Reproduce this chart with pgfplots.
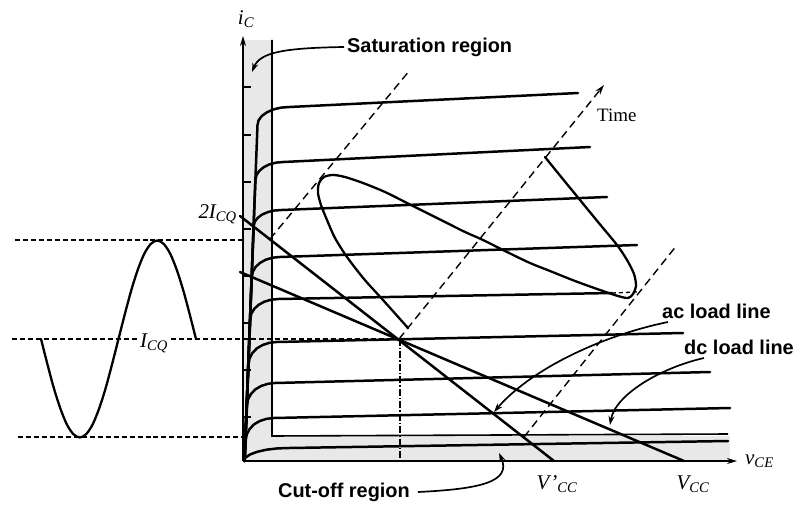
\documentclass[border=0pt]{standalone}
\usepackage{fontspec}
\setmainfont{Liberation Serif}
\newfontfamily\lsans{Liberation Sans}
\usepackage{pgfplots}
\pgfplotsset{compat=1.18}
\usetikzlibrary{arrows.meta}
\newcommand\lab{\lsans\bfseries\fontsize{20}{23}\selectfont}
\newcommand\tlab{\fontsize{19}{22}\selectfont}
\newcommand\mlab{\fontsize{21}{24}\selectfont\itshape}
\tikzset{
  mycurve/.style={black, line width=2.5pt, line join=round, line cap=round},
  dsh/.style={black, line width=1.4pt, dash pattern=on 8pt off 5pt},
  ldsh/.style={black, line width=1.4pt, dash pattern=on 5pt off 3pt}}
\begin{document}
\begin{tikzpicture}
\begin{axis}[hide axis, scale only axis, width=796bp, height=507bp,
  xmin=0, xmax=796, ymin=0, ymax=507, y dir=reverse, clip=false]
\addplot[draw=none] coordinates {(0,0) (796,507)};
% shaded regions
\fill[gray!18] (axis cs:243,40) rectangle (axis cs:272,461);
\fill[gray!18] (axis cs:243,436) rectangle (axis cs:730,461);
% inner boundary of regions
\addplot[black, line width=1.6pt] coordinates {(272,40) (272,436) (728,434)};
% left dashed levels
\addplot[ldsh] coordinates {(15,240) (243,240)};
\addplot[ldsh] coordinates {(12,339) (399,339)};
\addplot[ldsh] coordinates {(18,437) (243,437)};
\addplot[black, line width=1.3pt, dash pattern=on 7pt off 2pt on 1.5pt off 2pt] coordinates {(400,339) (400,461)};
% axes
\draw[black, line width=2.2pt, -{Stealth[length=10pt,width=6pt]}] (axis cs:243,461) -- (axis cs:243,36);
\draw[black, line width=2.2pt, -{Stealth[length=10pt,width=6pt]}] (axis cs:243,461) -- (axis cs:737,461);
\draw[black, line width=1.3pt] (axis cs:243,87) -- (axis cs:251,87);
\draw[black, line width=1.3pt] (axis cs:243,135) -- (axis cs:251,135);
\draw[black, line width=1.3pt] (axis cs:243,182) -- (axis cs:251,182);
\draw[black, line width=1.3pt] (axis cs:243,229) -- (axis cs:251,229);
\draw[black, line width=1.3pt] (axis cs:243,276) -- (axis cs:251,276);
\draw[black, line width=1.3pt] (axis cs:243,323) -- (axis cs:251,323);
\draw[black, line width=1.3pt] (axis cs:243,370) -- (axis cs:251,370);
\draw[black, line width=1.3pt] (axis cs:243,417) -- (axis cs:251,417);
% characteristic curves
\addplot[mycurve] coordinates {(244.5,461) (257.5,125) (258.6,120.3) (261.8,116) (266.9,112.3) (273.5,109.4) (281.2,107.6) (289.5,107) (578,93)};
\addplot[mycurve] coordinates {(244.5,461) (255.4,180) (256.4,175.3) (259.2,171) (263.6,167.3) (269.4,164.4) (276.2,162.6) (283.4,162) (590,147)};
\addplot[mycurve] coordinates {(244.5,461) (253.7,226) (254.7,221.9) (257.5,218) (261.9,214.7) (267.7,212.1) (274.5,210.5) (281.7,210) (607,197)};
\addplot[mycurve] coordinates {(244.5,461) (251.8,277) (252.8,271.8) (255.6,267) (260.0,262.9) (265.8,259.7) (272.6,257.7) (279.8,257) (637,245)};
\addplot[mycurve] coordinates {(244.5,461) (250.3,319) (251.3,313.8) (254.1,309) (258.5,304.9) (264.3,301.7) (271.1,299.7) (278.3,299) (612,293)};
\addplot[mycurve] coordinates {(244.5,461) (248.6,364) (249.6,358.3) (252.4,353) (256.8,348.4) (262.6,345) (269.4,342.8) (276.6,342) (683,333)};
\addplot[mycurve] coordinates {(244.5,461) (247.1,405) (248.1,399.3) (250.9,394) (255.3,389.4) (261.1,386) (267.9,383.8) (275.1,383) (710,372)};
\addplot[mycurve] coordinates {(244.5,461) (245.8,440) (246.8,434.3) (249.6,429) (254.0,424.4) (259.8,421) (266.6,418.8) (273.8,418) (730,408)};
\addplot[mycurve] coordinates {(244,461) (245.5,457.6) (250.0,454.5) (257.2,451.8) (266.5,449.7) (277.4,448.4) (289,448) (728,441)};
\addplot[black, line width=1.3pt, dash pattern=on 4pt off 3pt] coordinates {(612,293) (637,292)};
% load lines
\addplot[mycurve] coordinates {(240,216) (554,461)};
\addplot[mycurve] coordinates {(240,272) (684,461)};
% time axes
\addplot[dsh] coordinates {(270,239) (410,70)};
\addplot[dsh, -{Stealth[length=10pt,width=6pt]}] coordinates {(399,339) (604,85)};
\addplot[dsh] coordinates {(524,437) (677,245)};
% output current waveform
\addplot[mycurve, line width=2.3pt, smooth, tension=0.5] coordinates {
 (408,328) (383,300) (364,279) (347,257) (335,238) (327,220) (321,205) (318,193)
 (319,183) (324,177) (333,175) (345,177) (363,183) (385,192) (407,203) (427,213)
 (447,223) (465,232) (483,240) (507,252) (530,263) (550,271) (575,281) (600,290)
 (618,296) (628,298) (633,294) (636,286) (634,274) (627,260) (617,245) (598,222)
 (580,200) (562,178) (545,157)};
% input sine
\addplot[mycurve, line width=2.3pt, smooth, tension=0.5] coordinates {
 (41,339) (47.5,364.5) (53.9,388.3) (60.4,408.6) (66.8,424.3) (73.3,434.1) (79.8,437.5)
 (86.2,434.1) (92.7,424.3) (99.1,408.6) (105.6,388.3) (112.0,364.5) (118.5,339)
 (125.0,313.5) (131.4,289.8) (137.9,269.4) (144.3,253.7) (150.8,243.9) (157.3,240.5)
 (163.7,243.9) (170.2,253.7) (176.6,269.4) (183.1,289.8) (189.5,313.5) (196,339)};
% annotation arrows
\draw[black, line width=1.7pt, -{Stealth[length=9pt,width=6pt]}] (axis cs:344,47) .. controls (axis cs:285,48) and (axis cs:260,52) .. (axis cs:252,72);
\draw[black, line width=1.7pt, -{Stealth[length=9pt,width=6pt]}] (axis cs:668,322) .. controls (axis cs:600,336) and (axis cs:530,370) .. (axis cs:494,412);
\draw[black, line width=1.7pt, -{Stealth[length=9pt,width=6pt]}] (axis cs:704,358) .. controls (axis cs:660,368) and (axis cs:615,395) .. (axis cs:610,425);
\draw[black, line width=1.7pt, -{Stealth[length=9pt,width=6pt]}] (axis cs:418,492) .. controls (axis cs:480,489) and (axis cs:512,482) .. (axis cs:499,453);
% labels
\node[inner sep=0] at (axis cs:246,19) {\mlab i\textsubscript{C}};
\node[anchor=west, inner sep=0] at (axis cs:347,47) {\lab Saturation region};
\node[anchor=west, inner sep=0] at (axis cs:597,115) {\tlab Time};
\node[anchor=west, inner sep=0] at (axis cs:662,311) {\lab ac load line};
\node[anchor=west, inner sep=0] at (axis cs:684,347) {\lab dc load line};
\node[inner sep=0] at (axis cs:344,492) {\lab Cut-off region};
\node[inner sep=0] at (axis cs:557,484) {\mlab V\kern1pt'\textsubscript{CC}};
\node[inner sep=0] at (axis cs:693,484) {\mlab V\textsubscript{CC}};
\node[anchor=west, inner sep=0] at (axis cs:745,461) {\mlab v\textsubscript{CE}};
\node[anchor=east, inner sep=0] at (axis cs:237,214) {\mlab 2I\textsubscript{CQ}};
\node[fill=white, inner sep=2pt] at (axis cs:154,343) {\mlab I\textsubscript{CQ}};
\end{axis}
\end{tikzpicture}
\end{document}
